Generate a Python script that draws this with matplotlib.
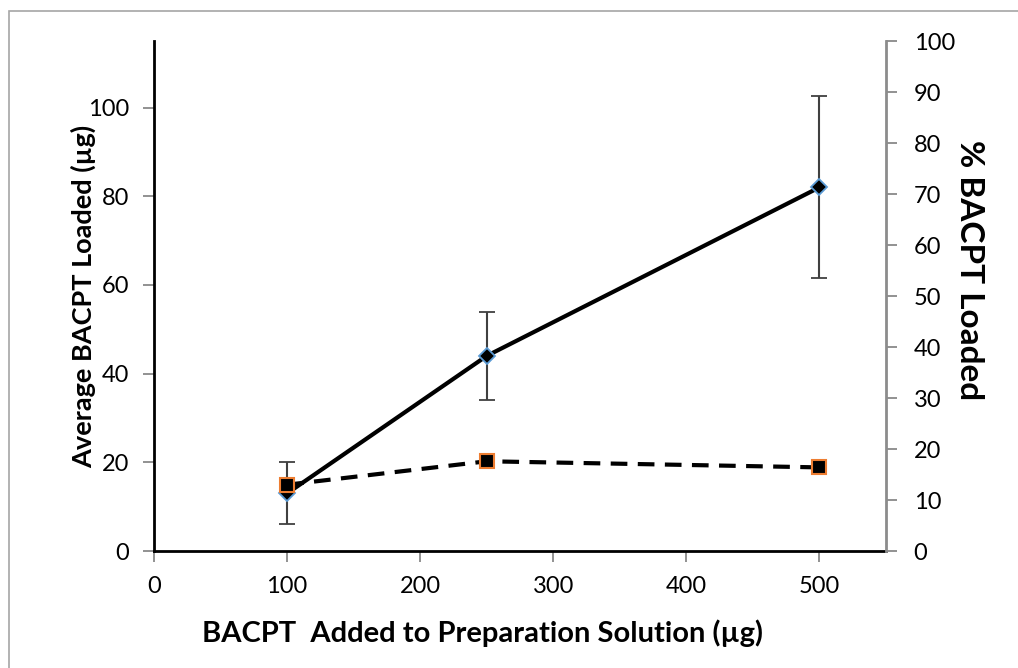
import matplotlib.pyplot as plt
from matplotlib.patches import Rectangle

plt.rcParams['font.family'] = ['Lato', 'DejaVu Sans']

# BACPT added (ug) vs. amount loaded and loading efficiency
added = [100, 250, 500]
loaded = [13, 44, 82]
loaded_err = [7, 10, 20.5]
pct_loaded = [13, 17.6, 16.4]

fig = plt.figure(figsize=(10.18, 6.68), dpi=100)
ax = fig.add_axes([0.1513, 0.1751, 0.7190, 0.7635])
ax2 = ax.twinx()

# outer chart frame
fig.patches.append(Rectangle((9 / 1018, -0.1), 1.2, 1 - 11 / 668 + 0.1,
                             transform=fig.transFigure, fill=False,
                             edgecolor='#a6a6a6', linewidth=1.2))

ax.errorbar(added, loaded, yerr=loaded_err, color='black', linewidth=3,
            marker='D', markersize=8, markerfacecolor='black',
            markeredgecolor='#5b9bd5', markeredgewidth=1.3,
            ecolor='#404040', elinewidth=1.5, capsize=6, capthick=1.5, zorder=3)

ax2.plot(added, pct_loaded, color='black', linewidth=3, linestyle=(0, (4, 2.5)),
         marker='s', markersize=10, markerfacecolor='black',
         markeredgecolor='#ed7d31', markeredgewidth=1.5, zorder=3)

ax.set_xlim(0, 550)
ax.set_ylim(0, 115)
ax2.set_ylim(0, 100)
ax.set_xticks(range(0, 501, 100))
ax.set_yticks(range(0, 101, 20))
ax2.set_yticks(range(0, 101, 10))

for s in ['top']:
    ax.spines[s].set_visible(False)
    ax2.spines[s].set_visible(False)
ax2.spines['left'].set_visible(False)
ax2.spines['bottom'].set_visible(False)
ax.spines['right'].set_visible(False)
ax.spines['left'].set_linewidth(2)
ax.spines['bottom'].set_linewidth(2)
ax2.spines['right'].set_color('#8c8c8c')
ax2.spines['right'].set_linewidth(2)

ax.tick_params(axis='y', direction='out', length=8, width=1.2,
               labelsize=17, color='#7f7f7f', pad=10)
ax.tick_params(axis='x', direction='out', length=8, width=1.2,
               labelsize=17, color='#7f7f7f', pad=10)
ax2.tick_params(axis='y', direction='out', length=8, width=1.2,
                labelsize=17, color='#7f7f7f', pad=12)

ax.set_xlabel('BACPT  Added to Preparation Solution (µg)', fontsize=21,
              fontweight='bold')
ax.set_ylabel('Average BACPT Loaded (µg)', fontsize=19.5, fontweight='bold')
ax2.set_ylabel('% BACPT Loaded', fontsize=24, fontweight='bold', rotation=-90)
ax.xaxis.set_label_coords(329 / 732, -82 / 510, transform=ax.transAxes)
ax.yaxis.set_label_coords(-71 / 732, 0.5, transform=ax.transAxes)
ax2.yaxis.set_label_coords(1 + 84 / 732, 281 / 510, transform=ax.transAxes)
ax.xaxis.label.set_va('center')
ax.yaxis.label.set_va('center')
ax2.yaxis.label.set_va('center')

fig.savefig('out.png', dpi=100)
